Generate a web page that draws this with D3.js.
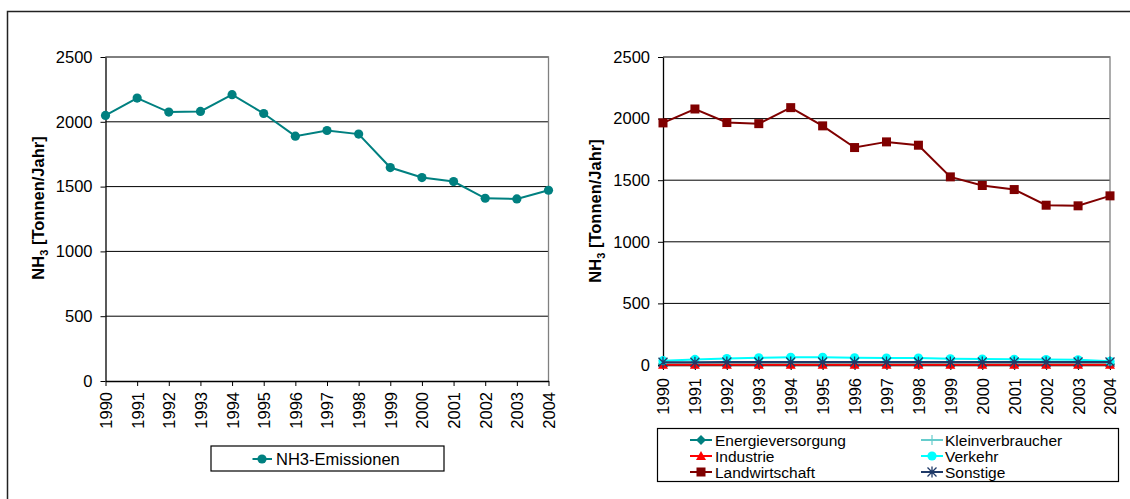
<!DOCTYPE html>
<html>
<head>
<meta charset="utf-8">
<script src="https://cdn.jsdelivr.net/npm/d3@7"></script>
<style>
  html, body { margin: 0; padding: 0; background: #fff; }
  svg { display: block; font-family: "Liberation Sans", Arial, sans-serif; }
</style>
</head>
<body>
<svg id="chart" width="1130" height="499"></svg>
<script>
// Jahre (Kategorien)
const years = ["1990","1991","1992","1993","1994","1995","1996","1997","1998","1999","2000","2001","2002","2003","2004"];
const yTicks = [0, 500, 1000, 1500, 2000, 2500];

// NH3-Emissionen gesamt [t/a]
const nh3Total = [2049, 2183, 2075, 2080, 2209, 2064, 1889, 1933, 1905, 1647, 1570, 1539, 1410, 1405, 1472];

// NH3-Emissionen nach Verursachern [t/a]
const energieversorgung = [5, 5, 5, 5, 5, 5, 5, 5, 5, 5, 5, 5, 5, 5, 5];
const kleinverbraucher  = [14, 14, 15, 15, 15, 15, 15, 14, 14, 14, 14, 14, 14, 14, 14];
const industrie         = [3, 3, 3, 3, 3, 3, 3, 3, 3, 3, 3, 3, 3, 3, 3];
const verkehr           = [35, 45, 52, 58, 62, 62, 58, 56, 56, 50, 48, 46, 44, 42, 30];
const landwirtschaft    = [1965, 2078, 1968, 1959, 2089, 1941, 1765, 1811, 1784, 1527, 1457, 1424, 1297, 1292, 1373];
const sonstige          = [22, 23, 24, 24, 25, 25, 25, 25, 25, 25, 25, 25, 25, 25, 25];

const seriesNames  = ["Energieversorgung", "Kleinverbraucher", "Industrie", "Verkehr", "Landwirtschaft", "Sonstige"];
const seriesValues = [energieversorgung, kleinverbraucher, industrie, verkehr, landwirtschaft, sonstige];

const FONT = 16.5;
const svg = d3.select("#chart");

// Rahmen um die Grafik
svg.append("path")
  .attr("d", "M7.5,499 V11.5 H1130")
  .attr("fill", "none").attr("stroke", "#222").attr("stroke-width", 1.5);

// Marker-Symbole
function drawMarker(g, type, x, y, color) {
  if (type === "circle") {
    g.append("circle").attr("cx", x).attr("cy", y).attr("r", 4.6).attr("fill", color);
  } else if (type === "square") {
    g.append("rect").attr("x", x - 4.5).attr("y", y - 4.5).attr("width", 9).attr("height", 9).attr("fill", color);
  } else if (type === "diamond") {
    g.append("path").attr("d", `M${x},${y-5}L${x+5},${y}L${x},${y+5}L${x-5},${y}Z`).attr("fill", color);
  } else if (type === "triangle") {
    g.append("path").attr("d", `M${x},${y-5}L${x+5},${y+4}L${x-5},${y+4}Z`).attr("fill", color);
  } else if (type === "plus") {
    g.append("path").attr("d", `M${x-5},${y}H${x+5}M${x},${y-5}V${y+5}`).attr("stroke", color).attr("stroke-width", 1.2);
  } else if (type === "star") {
    g.append("path").attr("d", `M${x-4.5},${y-4.5}L${x+4.5},${y+4.5}M${x-4.5},${y+4.5}L${x+4.5},${y-4.5}M${x},${y-5.5}V${y+5.5}`)
      .attr("stroke", color).attr("stroke-width", 1.3);
  }
}

// Ein Diagramm mit Achsen, Gitterlinien und Achsentitel
function buildPanel(opts) {
  const x = d3.scalePoint().domain(years).range([opts.left, opts.right]);
  const y = d3.scaleLinear().domain([0, 2500]).range([opts.bottom, opts.top]);
  const g = svg.append("g");

  // Gitterlinien
  g.append("g").selectAll("line").data(yTicks.filter(v => v > 0)).join("line")
    .attr("x1", opts.left).attr("x2", opts.right)
    .attr("y1", d => y(d)).attr("y2", d => y(d))
    .attr("stroke", "#000").attr("stroke-width", 1);

  // Rahmen der Zeichenfläche (oben, rechts)
  g.append("path")
    .attr("d", `M${opts.left},${opts.top}H${opts.right}V${opts.bottom}`)
    .attr("fill", "none").attr("stroke", "#808080").attr("stroke-width", 1.3);

  // y-Achse
  const ya = g.append("g").attr("transform", `translate(${opts.left},0)`)
    .call(d3.axisLeft(y).tickValues(yTicks).tickFormat(d3.format("d"))
      .tickSize(5).tickPadding(8).tickSizeOuter(0));
  ya.select(".domain").attr("stroke", "#000").attr("stroke-width", 1.3);
  ya.selectAll(".tick line").attr("stroke", "#000");
  ya.selectAll("text").style("font-size", FONT + "px").attr("fill", "#000");

  // x-Achse
  const xa = g.append("g").attr("transform", `translate(0,${opts.bottom})`)
    .call(d3.axisBottom(x).tickSize(5).tickSizeOuter(0));
  xa.select(".domain").attr("stroke", "#000").attr("stroke-width", 1.3);
  xa.selectAll(".tick line").attr("stroke", "#000");
  xa.selectAll("text")
    .style("font-size", FONT + "px").attr("fill", "#000")
    .attr("transform", "rotate(-90)")
    .attr("x", -opts.labelGap).attr("y", 0).attr("dy", "0.36em")
    .style("text-anchor", "end");

  // Achsentitel NH3 [Tonnen/Jahr]
  const t = g.append("text")
    .attr("transform", `translate(${opts.titleX},${opts.titleY}) rotate(-90)`)
    .attr("text-anchor", "middle")
    .style("font-size", FONT + "px").style("font-weight", "bold").attr("fill", "#000");
  t.append("tspan").text("NH");
  t.append("tspan").text("3").style("font-size", "11px").attr("dy", 4);
  t.append("tspan").text(" [Tonnen/Jahr]").attr("dy", -4);

  return { g, x, y };
}

// ---------- linkes Diagramm: Gesamtemissionen ----------
const left = buildPanel({ left: 105.5, right: 548.5, top: 57, bottom: 381, labelGap: 11, titleX: 44, titleY: 208 });
const lineL = d3.line().x((d, i) => left.x(years[i])).y(d => left.y(d));
left.g.append("path").datum(nh3Total).attr("d", lineL)
  .attr("fill", "none").attr("stroke", "#008080").attr("stroke-width", 2);
nh3Total.forEach((v, i) => drawMarker(left.g, "circle", left.x(years[i]), left.y(v), "#008080"));

// Legende links
svg.append("rect").attr("x", 211).attr("y", 446).attr("width", 233).attr("height", 25)
  .attr("fill", "#fff").attr("stroke", "#000").attr("stroke-width", 1.2);
svg.append("line").attr("x1", 252.5).attr("x2", 272).attr("y1", 459).attr("y2", 459)
  .attr("stroke", "#008080").attr("stroke-width", 2);
drawMarker(svg, "circle", 262, 459, "#008080");
svg.append("text").attr("x", 276).attr("y", 459).attr("dy", "0.36em")
  .style("font-size", FONT + "px").attr("fill", "#000").text("NH3-Emissionen");

// ---------- rechtes Diagramm: nach Verursachern ----------
const right = buildPanel({ left: 663, right: 1110, top: 57, bottom: 365, labelGap: 13, titleX: 601, titleY: 211 });
const styles = {
  "Energieversorgung": { color: "#008080", marker: "diamond" },
  "Kleinverbraucher":  { color: "#66CCCC", marker: "plus" },
  "Industrie":         { color: "#FF0000", marker: "triangle" },
  "Verkehr":           { color: "#00FFFF", marker: "circle" },
  "Landwirtschaft":    { color: "#800000", marker: "square" },
  "Sonstige":          { color: "#1F3A68", marker: "star" }
};
const lineR = d3.line().x((d, i) => right.x(years[i])).y(d => right.y(d));
seriesNames.forEach((name, k) => {
  const st = styles[name];
  const vals = seriesValues[k];
  right.g.append("path").datum(vals).attr("d", lineR)
    .attr("fill", "none").attr("stroke", st.color).attr("stroke-width", 2);
  vals.forEach((v, i) => drawMarker(right.g, st.marker, right.x(years[i]), right.y(v), st.color));
});

// Legende rechts (zweispaltig)
const LEG_FONT = 15.5;
svg.append("rect").attr("x", 657.5).attr("y", 428.5).attr("width", 461).attr("height", 53)
  .attr("fill", "#fff").attr("stroke", "#000").attr("stroke-width", 1.2);
const legRows = [440, 456, 472];
const legCols = [{ x1: 690, x2: 712, tx: 715 }, { x1: 921, x2: 943, tx: 945 }];
seriesNames.forEach((name, k) => {
  const st = styles[name];
  const c = legCols[k % 2], yy = legRows[Math.floor(k / 2)];
  svg.append("line").attr("x1", c.x1).attr("x2", c.x2).attr("y1", yy).attr("y2", yy)
    .attr("stroke", st.color).attr("stroke-width", 2);
  drawMarker(svg, st.marker, (c.x1 + c.x2) / 2, yy, st.color);
  svg.append("text").attr("x", c.tx).attr("y", yy).attr("dy", "0.36em")
    .style("font-size", LEG_FONT + "px").attr("fill", "#000").text(name);
});
</script>
</body>
</html>
